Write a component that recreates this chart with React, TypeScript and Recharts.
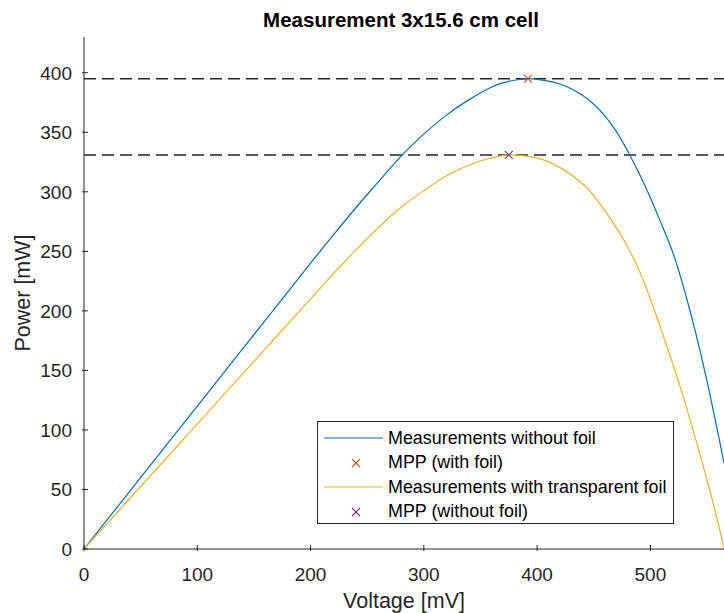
import { ComposedChart, Line, Scatter, XAxis, YAxis, ReferenceLine } from 'recharts';

// Measurements without foil (blue)
const blueVoltage = [0, 40, 80, 120, 160, 200, 220, 240, 260, 280, 300, 320, 340, 360, 370, 380, 392, 400, 410, 420, 430, 440, 450, 460, 470, 480, 490, 500, 510, 520, 530, 540, 550, 560, 565];
const bluePower = [0, 48, 96, 144, 192, 240, 263.6, 286.6, 308.6, 330, 348.4, 364.4, 377.4, 388, 391.5, 393.7, 395, 394.5, 393, 390.5, 386.5, 381, 373.5, 363.5, 350.5, 334, 315.5, 295, 272.5, 248.5, 217.5, 181.5, 141, 96, 72];

// Measurements with transparent foil (yellow)
const yellowVoltage = [0, 40, 80, 120, 160, 200, 220, 240, 260, 280, 300, 320, 340, 355, 365, 375, 385, 395, 405, 420, 440, 453, 465, 475, 481, 490, 500, 510, 520, 530, 540, 550, 560, 565];
const yellowPower = [0, 42, 84, 126, 168, 210, 231, 251, 270, 287, 301, 313.5, 322.5, 327.3, 329.6, 331, 330.6, 329.3, 327, 320.5, 307, 293, 277, 262, 252, 234, 210, 183, 155, 125, 92, 58, 21, 1];

// maximum power points
const mppWithVoltage = [392];
const mppWithPower = [395];
const mppWithoutVoltage = [375];
const mppWithoutPower = [331];

const xTicks = [0, 100, 200, 300, 400, 500];
const yTicks = [0, 50, 100, 150, 200, 250, 300, 350, 400];

const BLUE = '#0072BD';
const ORANGE = '#D95319';
const YELLOW = '#EDB120';
const PURPLE = '#7E2F8E';
const AXIS = '#262626';
const FONT = '"Liberation Sans", Arial, sans-serif';

const toRows = (vs: number[], ps: number[]) => vs.map((v, i) => ({ v, p: ps[i] }));
const blueData = toRows(blueVoltage, bluePower);
const yellowData = toRows(yellowVoltage, yellowPower);
const mppWith = toRows(mppWithVoltage, mppWithPower);
const mppWithout = toRows(mppWithoutVoltage, mppWithoutPower);

const Cross = (color: string) => (props: any) => {
  const { cx, cy } = props;
  const s = 4;
  return (
    <g>
      <line x1={cx - s} y1={cy - s} x2={cx + s} y2={cy + s} stroke={color} strokeWidth={1.1} />
      <line x1={cx - s} y1={cy + s} x2={cx + s} y2={cy - s} stroke={color} strokeWidth={1.1} />
    </g>
  );
};

const YTick = (props: any) => {
  const { x, y, payload } = props;
  return (
    <g>
      <line x1={x} x2={x + 6} y1={y} y2={y} stroke={AXIS} />
      <text x={x - 10} y={y} dy={7} textAnchor="end" fontSize={19} fontFamily={FONT} fill={AXIS}>{payload.value}</text>
    </g>
  );
};

const XTick = (props: any) => {
  const { x, y, payload } = props;
  return (
    <g>
      <line x1={x} x2={x} y1={y} y2={y - 6} stroke={AXIS} />
      <text x={x} y={y} dy={30} textAnchor="middle" fontSize={19} fontFamily={FONT} fill={AXIS}>{payload.value}</text>
    </g>
  );
};

const legendItems = [
  { label: 'Measurements without foil', color: BLUE, kind: 'line' },
  { label: 'MPP (with foil)', color: ORANGE, kind: 'cross' },
  { label: 'Measurements with transparent foil', color: YELLOW, kind: 'line' },
  { label: 'MPP (without foil)', color: PURPLE, kind: 'cross' },
];

export default function App() {
  return (
    <div style={{ position: 'absolute', left: 0, top: 0, width: 724, height: 613, background: '#fff', overflow: 'hidden', fontFamily: FONT }}>
      <div style={{ position: 'absolute', left: 0, width: 802, top: 8, textAlign: 'center', fontWeight: 'bold', fontSize: 20.5, lineHeight: '24px', color: '#000' }}>
        Measurement 3x15.6 cm cell
      </div>
      <ComposedChart width={724} height={613} margin={{ top: 37, right: 0, left: 0, bottom: 0 }}>
        <XAxis
          type="number"
          dataKey="v"
          domain={[0, 565]}
          allowDataOverflow
          ticks={xTicks}
          interval={0}
          height={64}
          tickSize={0}
          tickLine={false}
          tick={<XTick />}
          axisLine={{ stroke: AXIS }}
          label={{ value: 'Voltage [mV]', position: 'center', dy: 19, style: { fontSize: 21.5, fontFamily: FONT, fill: AXIS } }}
        />
        <YAxis
          type="number"
          domain={[0, 430]}
          allowDataOverflow
          ticks={yTicks}
          interval={0}
          width={84}
          tickSize={0}
          tickLine={false}
          tick={<YTick />}
          axisLine={{ stroke: AXIS }}
          label={{ value: 'Power [mW]', angle: -90, position: 'center', dx: -20, style: { fontSize: 21.5, fontFamily: FONT, fill: AXIS, textAnchor: 'middle' } }}
        />
        <ReferenceLine y={mppWithPower[0]} stroke={AXIS} strokeWidth={1.5} strokeDasharray="12 6" />
        <ReferenceLine y={mppWithoutPower[0]} stroke={AXIS} strokeWidth={1.5} strokeDasharray="12 6" />
        <Line data={blueData} dataKey="p" type="natural" stroke={BLUE} strokeWidth={1.2} dot={false} isAnimationActive={false} />
        <Line data={yellowData} dataKey="p" type="natural" stroke={YELLOW} strokeWidth={1.2} dot={false} isAnimationActive={false} />
        <Scatter data={mppWith} dataKey="p" shape={Cross(ORANGE)} isAnimationActive={false} />
        <Scatter data={mppWithout} dataKey="p" shape={Cross(PURPLE)} isAnimationActive={false} />
      </ComposedChart>
      <div style={{ position: 'absolute', left: 317, top: 421, width: 357, height: 103, border: `1px solid ${AXIS}`, background: '#fff', boxSizing: 'border-box', paddingTop: 4 }}>
        {legendItems.map((item) => (
          <div key={item.label} style={{ display: 'flex', alignItems: 'center', height: 24.5, fontSize: 17.9, color: '#000', whiteSpace: 'nowrap' }}>
            <svg width={70} height={20} style={{ flex: 'none' }}>
              {item.kind === 'line' ? (
                <line x1={6} x2={65} y1={10} y2={10} stroke={item.color} strokeWidth={1.2} />
              ) : (
                <g>
                  <line x1={34} y1={6} x2={42} y2={14} stroke={item.color} strokeWidth={1.1} />
                  <line x1={34} y1={14} x2={42} y2={6} stroke={item.color} strokeWidth={1.1} />
                </g>
              )}
            </svg>
            <span>{item.label}</span>
          </div>
        ))}
      </div>
    </div>
  );
}
